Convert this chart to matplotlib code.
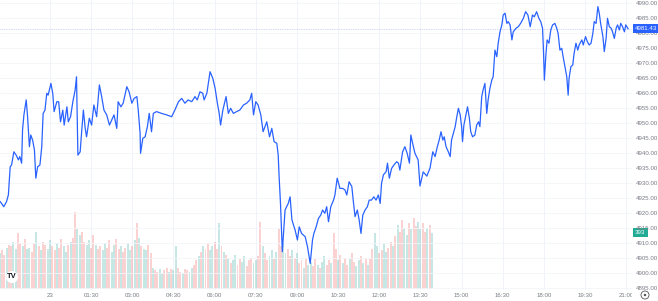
import matplotlib
matplotlib.use("Agg")
import matplotlib.pyplot as plt
from matplotlib.patches import Ellipse
from matplotlib.transforms import Bbox, TransformedBbox
from matplotlib.ticker import FormatStrFormatter

plt.rcParams["font.family"] = ["Liberation Sans", "DejaVu Sans"]

# ---- price series (minutes from 00:00 on the 23rd) ----
minutes = [
    -109, -106, -101, -95, -91, -87, -84, -79, -74, -69,
    -66, -62, -60, -57, -52, -49, -45, -42, -38, -34,
    -31, -27, -22, -18, -15, -11, -7, -4, 2, 6,
    9, 15, 19, 23, 28, 31, 37, 40, 45, 50,
    55, 58, 61, 66, 69, 73, 77, 80, 86, 91,
    96, 102, 108, 113, 118, 124, 130, 135, 140, 146,
    149, 155, 160, 168, 173, 179, 184, 190, 193, 197,
    198, 203, 208, 213, 217, 222, 226, 233, 244, 255,
    266, 273, 281, 288, 295, 302, 310, 317, 322, 328,
    334, 337, 343, 350, 356, 361, 366, 370, 373, 378,
    385, 390, 395, 401, 408, 415, 423, 430, 437, 441,
    445, 450, 455, 461, 466, 470, 474, 480, 485, 490,
    496, 499, 501, 504, 508, 514, 521, 525, 529, 536,
    541, 545, 550, 558, 563, 569, 574, 577, 582, 587,
    592, 596, 601, 605, 609, 614, 620, 623, 628, 634,
    640, 645, 649, 654, 660, 663, 667, 672, 676, 680,
    684, 689, 694, 698, 703, 708, 713, 718, 722, 725,
    729, 735, 738, 742, 747, 752, 758, 762, 765, 771,
    776, 781, 786, 789, 793, 798, 805, 809, 816, 824,
    831, 837, 842, 847, 851, 855, 859, 862, 866, 871,
    875, 878, 882, 886, 889, 893, 897, 900, 902, 905,
    910, 913, 917, 920, 924, 929, 933, 937, 940, 944,
    947, 951, 955, 958, 962, 966, 969, 973, 977, 980,
    984, 988, 991, 995, 999, 1002, 1006, 1010, 1013, 1019,
    1024, 1029, 1035, 1040, 1045, 1050, 1055, 1059, 1064, 1069,
    1073, 1077, 1079, 1081, 1084, 1087, 1091, 1095, 1099, 1104,
    1108, 1111, 1115, 1119, 1122, 1126, 1130, 1133, 1135, 1139,
    1143, 1146, 1150, 1154, 1157, 1163, 1166, 1171, 1175, 1179,
    1183, 1187, 1190, 1194, 1198, 1201, 1204, 1209, 1212, 1216,
    1219, 1223, 1227, 1230, 1234, 1238, 1241, 1245, 1248, 1252,
    1256, 1259, 1264,
]
prices = [
    4923.8, 4923.2, 4922.1, 4923.8, 4926.0, 4935.4, 4936.0, 4940.4, 4939.3, 4937.7,
    4938.8, 4936.6, 4947.7, 4952.7, 4957.7, 4952.1, 4942.1, 4946.0, 4944.3, 4941.0,
    4931.6, 4935.4, 4936.0, 4942.1, 4953.2, 4954.3, 4959.9, 4959.3, 4963.2, 4959.9,
    4953.8, 4957.1, 4957.1, 4950.4, 4954.3, 4949.3, 4955.4, 4950.4, 4952.1, 4957.1,
    4961.0, 4965.4, 4939.3, 4940.4, 4946.6, 4954.3, 4948.2, 4945.4, 4951.6, 4949.3,
    4956.0, 4952.1, 4962.7, 4958.8, 4954.3, 4952.7, 4949.3, 4951.0, 4952.7, 4948.2,
    4957.1, 4955.4, 4956.6, 4962.1, 4960.4, 4956.6, 4958.2, 4958.8, 4954.3, 4946.6,
    4939.9, 4944.9, 4945.4, 4948.8, 4953.2, 4947.1, 4953.2, 4953.8, 4953.2, 4952.7,
    4952.1, 4954.3, 4957.1, 4958.2, 4956.6, 4957.7, 4957.1, 4958.8, 4957.7, 4960.4,
    4959.9, 4957.7, 4959.9, 4967.1, 4964.9, 4961.6, 4956.6, 4953.2, 4949.3, 4954.3,
    4958.8, 4953.2, 4954.9, 4953.2, 4953.8, 4954.3, 4956.0, 4956.6, 4957.7, 4959.9,
    4952.7, 4957.1, 4956.0, 4952.7, 4947.1, 4948.8, 4950.4, 4945.4, 4948.2, 4943.8,
    4943.2, 4939.3, 4932.1, 4923.2, 4907.1, 4921.0, 4923.2, 4925.4, 4917.7, 4914.3,
    4911.0, 4915.4, 4913.2, 4912.1, 4908.8, 4903.2, 4911.0, 4913.2, 4915.4, 4918.2,
    4919.3, 4921.0, 4919.9, 4922.1, 4917.1, 4922.1, 4924.3, 4926.0, 4931.6, 4928.2,
    4928.2, 4927.7, 4926.0, 4930.4, 4928.8, 4924.3, 4918.8, 4921.0, 4917.7, 4913.2,
    4919.3, 4921.0, 4922.1, 4924.3, 4924.3, 4925.4, 4924.3, 4926.0, 4923.2, 4929.9,
    4932.7, 4933.8, 4936.6, 4931.6, 4934.9, 4936.0, 4937.1, 4936.6, 4934.3, 4940.4,
    4942.1, 4939.9, 4936.6, 4946.0, 4943.2, 4939.9, 4937.7, 4929.0, 4933.7, 4932.3,
    4935.0, 4940.4, 4938.8, 4942.1, 4944.3, 4947.1, 4944.3, 4945.4, 4942.1, 4940.4,
    4938.8, 4944.3, 4946.6, 4948.8, 4951.6, 4954.9, 4952.7, 4948.8, 4943.8, 4949.3,
    4953.2, 4955.4, 4951.6, 4947.1, 4945.4, 4946.0, 4949.3, 4950.4, 4948.8, 4958.8,
    4961.0, 4963.2, 4953.2, 4957.7, 4961.6, 4964.3, 4965.4, 4974.3, 4972.1, 4976.6,
    4980.4, 4982.7, 4986.0, 4986.6, 4983.2, 4983.8, 4982.7, 4977.7, 4980.4, 4981.6,
    4982.1, 4983.2, 4984.9, 4987.1, 4986.0, 4982.1, 4986.0, 4985.4, 4987.1, 4984.9,
    4983.8, 4981.6, 4974.3, 4964.3, 4972.1, 4977.7, 4976.6, 4981.0, 4982.7, 4983.2,
    4981.6, 4979.9, 4974.3, 4974.9, 4972.1, 4968.8, 4965.4, 4959.3, 4964.9, 4968.8,
    4969.3, 4973.2, 4976.6, 4974.3, 4976.0, 4977.7, 4976.0, 4978.8, 4977.1, 4976.0,
    4976.6, 4979.9, 4983.8, 4983.2, 4988.8, 4986.6, 4983.2, 4978.8, 4973.8, 4978.2,
    4984.9, 4982.1, 4981.6, 4980.4, 4978.2, 4981.6, 4982.7, 4981.0, 4983.2, 4982.1,
    4980.4, 4982.7, 4981.43,
]
assert len(minutes) == len(prices)

# ---- volume (5-minute bars) ----
vol_start = -110
vol_step = 5
volumes = [
    250, 270, 240, 290, 310,
    300, 330, 280, 390, 320, 300, 350, 280,
    290, 260, 320, 400, 300, 270, 330,
    310, 280, 340, 300, 270, 320, 290, 350, 300, 260, 310,
    330, 360, 540, 420,
    380, 400, 330, 310,
    340, 290, 380, 310, 280,
    300, 270, 320, 290, 340, 260, 310, 350, 280, 300, 260, 290, 320, 270, 300,
    340, 460, 360,
    300, 280, 270, 310, 250,
    150, 130, 120, 140, 110, 130, 150, 120, 140, 130, 300, 150, 120, 110, 140, 130, 120, 150, 170, 200,
    230, 260, 300, 280, 320, 270, 300, 330, 280,
    460, 300, 260, 240,
    220, 180, 200, 240, 170, 210, 190, 230, 160, 200, 220, 180, 200, 230,
    470, 300,
    250, 200, 230, 270, 210, 260,
    420, 300,
    320, 250, 280, 230, 270, 220, 250,
    180, 200, 150, 220, 170, 190, 160, 210, 170, 150, 190, 230, 170, 200, 180,
    390, 280,
    200, 240, 180, 220, 170, 210, 250, 190, 160, 200, 230, 180, 210, 170, 220,
    280, 390,
    300, 250, 270, 320, 260, 290,
    330, 300, 370, 450, 400, 480, 430, 380, 460, 420, 500, 440, 470,
    420, 460, 400, 430, 450, 393,
]
vol_dir = ("uddudduudd" "uduuddudud" "duuddudduu" "dudduudduu" "ddudduuddu"
           "uddudduudu" "duduuddudd" "uudduduudd" "udduuddudu" "dduuddudud"
           "uduudduudd" "duuddudduu" "dudduuddud" "udduduuddu" "duudduddud"
           "uddudduudu" "dudduudduu" "ddududduud" "udduuddudu")
assert len(vol_dir) == len(volumes)

price_ticks = list(range(4895, 4991, 5))
time_ticks = [0, 90, 180, 270, 360, 450, 540, 630, 720, 810, 900, 990, 1080, 1170, 1260]
time_labels = ["23", "01:30", "03:00", "04:30", "06:00", "07:30", "09:00", "10:30",
               "12:00", "13:30", "15:00", "16:30", "18:00", "19:30", "21:00"]
last_price = 4981.43
last_volume = 393

# ---- layout ----
W, H = 658, 301
fig = plt.figure(figsize=(W / 100, H / 100), dpi=100)
fig.patch.set_facecolor("white")
rect = [0, 1 - 290 / H, 632 / W, 290 / H]

axv = fig.add_axes(rect)
ax = fig.add_axes(rect, sharex=axv)
ax.patch.set_visible(False)

# volume
up_c = (38 / 255, 166 / 255, 154 / 255, 0.26)
dn_c = (239 / 255, 83 / 255, 80 / 255, 0.26)
vol_t = [vol_start + i * vol_step for i in range(len(volumes))]
axv.bar(vol_t, volumes, width=vol_step * 0.85,
        color=[up_c if d == "u" else dn_c for d in vol_dir], linewidth=0, zorder=1)
axv.set_ylim(-7, 2023)
axv.set_yticks([])
for s in axv.spines.values():
    s.set_visible(False)

# grid
for t in time_ticks:
    axv.axvline(t, color="#f0f3fa", lw=0.7, zorder=0)

# price
ax.plot(minutes, prices, color="#2962FF", lw=0.9, zorder=3, solid_joinstyle="round")
ax.axhline(last_price, color="#9fb3e6", lw=0.5, ls=(0, (1, 1.5)), zorder=2)
ax.set_xlim(-109.3, 1272.6)
ax.set_ylim(4991 - 290 / 3, 4991)
for p in price_ticks:
    ax.axhline(p, color="#f3f5fa", lw=0.6, zorder=0)

for s in ax.spines.values():
    s.set_visible(False)
ax.yaxis.tick_right()
ax.set_yticks(price_ticks)
ax.yaxis.set_major_formatter(FormatStrFormatter("%.2f"))
ax.tick_params(axis="y", length=0, pad=2.8, labelsize=4.4, labelcolor="#7a7d86")
ax.set_xticks(time_ticks)
ax.set_xticklabels(time_labels)
ax.tick_params(axis="x", length=0, pad=2.2, labelsize=4.4, labelcolor="#7a7d86")
axv.tick_params(axis="x", length=0, labelbottom=False)

clip = TransformedBbox(Bbox([[0, 0], [632 / W, 1]]), fig.transFigure)
for lab in ax.get_xticklabels():
    lab.set_clip_box(clip)
    lab.set_clip_on(True)

# last price label
ax.annotate(f"{last_price:.2f}", xy=(1, last_price), xycoords=("axes fraction", "data"),
            xytext=(2.2, 0), textcoords="offset points", ha="left", va="center",
            fontsize=4.4, color="white", annotation_clip=False,
            bbox=dict(boxstyle="square,pad=0.35", fc="#2962FF", ec="none"), zorder=10)
# last volume label
axv.annotate(f"{last_volume}", xy=(1, last_volume), xycoords=("axes fraction", "data"),
             xytext=(2.2, 0), textcoords="offset points", ha="left", va="center",
             fontsize=4.4, color="white", annotation_clip=False,
             bbox=dict(boxstyle="square,pad=0.35", fc="#22ab94", ec="none"), zorder=10)

# logo & icon
fig.text(12 / W, 1 - 277 / H, "TV", fontsize=5.5, fontweight="bold", color="#131722",
         ha="center", va="center",
         bbox=dict(boxstyle="circle,pad=0.15", fc="white", ec="none"))
fig.add_artist(Ellipse((645 / W, 1 - 295 / H), 8 / W, 8 / H, fill=False,
                       ec="#555", lw=0.6, transform=fig.transFigure))
fig.add_artist(Ellipse((645 / W, 1 - 295 / H), 2.5 / W, 2.5 / H, fill=True,
                       fc="#555", ec="none", transform=fig.transFigure))

fig.savefig("out.png", dpi=100, facecolor="white")
